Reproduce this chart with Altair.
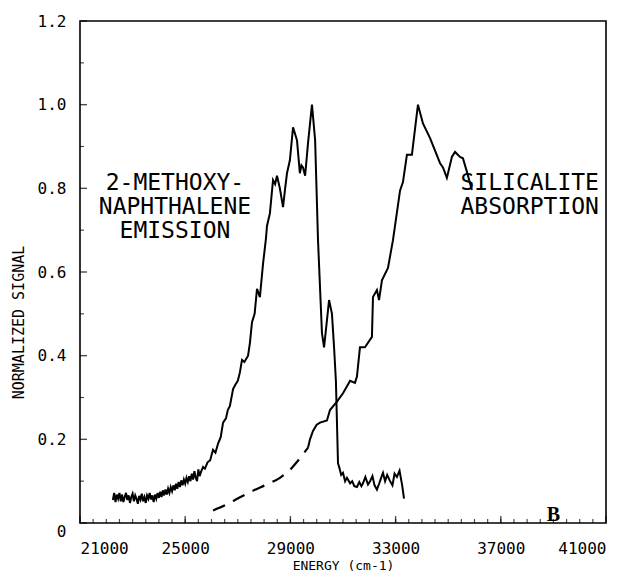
import altair as alt
import pandas as pd

# ---- data ----
em_energy = [22250, 22300, 22350, 22400, 22450, 22500, 22550, 22600, 22650, 22700,
             22750, 22800, 22850, 22900, 22950, 23000, 23050, 23100, 23150, 23200,
             23250, 23300, 23350, 23400, 23450, 23500, 23550, 23600, 23650, 23700,
             23750, 23800, 23850, 23900, 23950, 24000, 24050, 24100, 24150, 24200,
             24250, 24300, 24350, 24400, 24450, 24500, 24550, 24600, 24650, 24700,
             24750, 24800, 24850, 24900, 24950, 25000, 25050, 25100, 25150, 25200,
             25250, 25300, 25350, 25400, 25450, 25500, 25550, 25600, 25680, 25750,
             25850, 25950, 26057, 26150, 26250, 26350, 26440, 26550, 26620, 26700,
             26820, 26900, 27000, 27080, 27160, 27250, 27390, 27460, 27540, 27640,
             27730, 27840, 27960, 28070, 28110, 28220, 28340, 28420, 28490, 28600,
             28720, 28800, 28870, 28980, 29100, 29250, 29360, 29420, 29480, 29560,
             29670, 29820, 29940, 30050, 30200, 30280, 30390, 30470, 30580, 30660,
             30730, 30810, 30870, 30930, 31000, 31080, 31150, 31270, 31350, 31430,
             31530, 31620, 31700, 31760, 31850, 31950, 32030, 32120, 32200, 32290,
             32380, 32450, 32520, 32600, 32680, 32790, 32880, 32960, 33050, 33150,
             33250, 33320]
em_value = [0.055, 0.072, 0.050, 0.068, 0.058, 0.072, 0.052, 0.068, 0.050, 0.062,
            0.072, 0.055, 0.066, 0.048, 0.062, 0.070, 0.052, 0.066, 0.058, 0.046,
            0.065, 0.056, 0.070, 0.052, 0.062, 0.048, 0.066, 0.058, 0.072, 0.056,
            0.066, 0.050, 0.068, 0.058, 0.072, 0.060, 0.075, 0.062, 0.078, 0.066,
            0.080, 0.068, 0.082, 0.072, 0.086, 0.076, 0.090, 0.078, 0.094, 0.082,
            0.098, 0.086, 0.102, 0.090, 0.104, 0.094, 0.108, 0.098, 0.112, 0.100,
            0.118, 0.104, 0.124, 0.108, 0.100, 0.128, 0.112, 0.122, 0.134, 0.130,
            0.145, 0.150, 0.175, 0.168, 0.190, 0.205, 0.240, 0.250, 0.270, 0.280,
            0.320, 0.330, 0.340, 0.360, 0.390, 0.385, 0.400, 0.430, 0.480, 0.500,
            0.560, 0.540, 0.620, 0.680, 0.710, 0.740, 0.820, 0.810, 0.830, 0.800,
            0.755, 0.800, 0.836, 0.867, 0.946, 0.915, 0.836, 0.855, 0.850, 0.830,
            0.908, 1.000, 0.915, 0.676, 0.454, 0.420, 0.485, 0.533, 0.500, 0.420,
            0.340, 0.143, 0.130, 0.115, 0.120, 0.100, 0.108, 0.095, 0.100, 0.088,
            0.086, 0.098, 0.088, 0.095, 0.110, 0.092, 0.100, 0.112, 0.090, 0.080,
            0.095, 0.108, 0.120, 0.100, 0.115, 0.100, 0.090, 0.118, 0.110, 0.125,
            0.090, 0.058]

abs_dash_energy = [26060, 26600, 27100, 27600, 28100, 28600, 29000, 29300, 29670]
abs_dash_value = [0.030, 0.045, 0.062, 0.078, 0.092, 0.108, 0.128, 0.150, 0.180]

abs_energy = [29670, 29745, 29860, 30000, 30125, 30390, 30505, 30770, 31000, 31270,
              31455, 31530, 31645, 31835, 32100, 32140, 32290, 32370, 32480, 32710,
              32900, 33170, 33280, 33430, 33620, 33850, 34040, 34310, 34500, 34690,
              34800, 34950, 35140, 35260, 35450, 35560, 35710, 35900]
abs_value = [0.180, 0.200, 0.220, 0.235, 0.240, 0.245, 0.270, 0.290, 0.310, 0.340,
             0.335, 0.350, 0.420, 0.420, 0.445, 0.540, 0.557, 0.533, 0.580, 0.610,
             0.676, 0.795, 0.815, 0.880, 0.880, 1.000, 0.955, 0.920, 0.890, 0.860,
             0.850, 0.825, 0.875, 0.887, 0.875, 0.872, 0.840, 0.796]

x_tick_labels = [21000, 25000, 29000, 33000, 37000, 41000]
y_tick_labels = [0, 0.2, 0.4, 0.6, 0.8, 1.0, 1.2]
x_minor = list(range(21500, 41000, 500))
y_minor = [0.1, 0.3, 0.5, 0.7, 0.9, 1.1]

labels_text = ["2-METHOXY-", "NAPHTHALENE", "EMISSION", "SILICALITE", "ABSORPTION"]
labels_x = [24610, 24610, 24610, 38100, 38100]
labels_y = [0.813, 0.756, 0.698, 0.813, 0.756]

W, H = 526, 502
MONO = "DejaVu Sans Mono"

xs = alt.Scale(domain=[21000, 41000], nice=False, zero=False)
ys = alt.Scale(domain=[0, 1.2], nice=False)

em = pd.DataFrame({"E": em_energy, "v": em_value})
ab = pd.DataFrame({"E": abs_energy, "v": abs_value})
ad = pd.DataFrame({"E": abs_dash_energy, "v": abs_dash_value})

xaxis = alt.Axis(values=x_tick_labels, format="d", ticks=False, domain=False, grid=False,
                 labelFont=MONO, labelFontSize=16, labelPadding=17, labelColor="black",
                 title="ENERGY (cm-1)", titleFont=MONO, titleFontSize=13, titleFontWeight="normal",
                 titleColor="black", titleX=263, titleY=42, titleBaseline="middle")
yaxis = alt.Axis(values=y_tick_labels, ticks=False, domain=False, grid=False,
                 labelExpr="datum.value == 0 ? '0' : format(datum.value, '.1f')",
                 labelFont=MONO, labelFontSize=16, labelPadding=14, labelColor="black",
                 labelBaseline=alt.condition("datum.value == 0", alt.value("top"), alt.value("middle")),
                 title="NORMALIZED SIGNAL", titleFont=MONO, titleFontSize=15, titleFontWeight="normal",
                 titleColor="black", titleX=-62, titleY=301, titleAngle=-90, titleBaseline="middle")

base_x = alt.X("E:Q", scale=xs, axis=xaxis)
base_y = alt.Y("v:Q", scale=ys, axis=yaxis)

emission = alt.Chart(em).mark_line(color="black", strokeWidth=2).encode(x=base_x, y=base_y)
absorb = alt.Chart(ab).mark_line(color="black", strokeWidth=2).encode(
    x=alt.X("E:Q", scale=xs), y=alt.Y("v:Q", scale=ys))
dashed = alt.Chart(ad).mark_line(color="black", strokeWidth=2.2, strokeDash=[13, 9],
                                 interpolate="monotone").encode(
    x=alt.X("E:Q", scale=xs), y=alt.Y("v:Q", scale=ys))

xmaj = alt.Chart(pd.DataFrame({"E": x_tick_labels})).mark_tick(
    color="black", thickness=1.4, orient="vertical").encode(
    x=alt.X("E:Q", scale=xs), y=alt.value(H - 3.5), size=alt.value(7))
xmin = alt.Chart(pd.DataFrame({"E": x_minor})).mark_tick(
    color="black", thickness=1.2, orient="vertical").encode(
    x=alt.X("E:Q", scale=xs), y=alt.value(H - 2), size=alt.value(4))
ymaj = alt.Chart(pd.DataFrame({"v": y_tick_labels})).mark_tick(
    color="black", thickness=1.4, orient="horizontal").encode(
    y=alt.Y("v:Q", scale=ys), x=alt.value(3.5), size=alt.value(7))
ymin = alt.Chart(pd.DataFrame({"v": y_minor})).mark_tick(
    color="black", thickness=1.2, orient="horizontal").encode(
    y=alt.Y("v:Q", scale=ys), x=alt.value(2), size=alt.value(4))

lab = pd.DataFrame({"t": labels_text, "E": labels_x, "v": labels_y})
texts = alt.Chart(lab).mark_text(font=MONO, fontSize=23, color="black", align="center",
                                 baseline="middle").encode(
    x=alt.X("E:Q", scale=xs), y=alt.Y("v:Q", scale=ys), text="t:N")

bl = pd.DataFrame({"t": ["B"], "E": [39000], "v": [0.02]})
btext = alt.Chart(bl).mark_text(font="Liberation Serif", fontSize=20, fontWeight="bold",
                                color="black", baseline="middle").encode(
    x=alt.X("E:Q", scale=xs), y=alt.Y("v:Q", scale=ys), text="t:N")

chart = alt.layer(emission, absorb, dashed, xmaj, xmin, ymaj, ymin, texts, btext).properties(
    width=W, height=H,
    autosize=alt.AutoSizeParams(type="none"),
    padding={"left": 80, "top": 21, "right": 31, "bottom": 51},
    background="white",
).configure_view(stroke="black", strokeWidth=1.6)

chart.save("out.html", embed_options={"renderer": "svg", "actions": False})
